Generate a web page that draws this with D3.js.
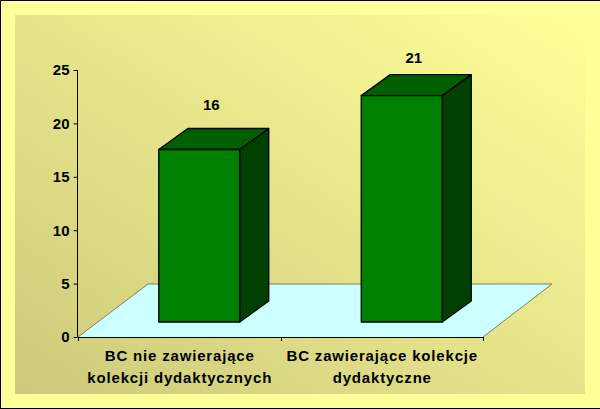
<!DOCTYPE html>
<html><head><meta charset="utf-8">
<script src="https://cdn.jsdelivr.net/npm/d3@7"></script>
<style>
html,body{margin:0;padding:0;background:#FFFF99}
svg{display:block}
text{font-family:"Liberation Sans",Arial,sans-serif;font-weight:bold;font-size:15px;fill:#000}
</style></head><body>
<svg id="c" width="600" height="409"></svg>
<script>
const categories=[["BC nie zawierające","kolekcji dydaktycznych"],["BC zawierające kolekcje","dydaktyczne"]];
const values=[16,21];
const valueTicks=[0,5,10,15,20,25];

const svg=d3.select("#c");
const defs=svg.append("defs");
const g=defs.append("linearGradient").attr("id","bg").attr("gradientUnits","userSpaceOnUse")
  .attr("x1",128).attr("y1",463).attr("x2",472).attr("y2",-59);
g.append("stop").attr("offset",0).attr("stop-color","#CDCA7C");
g.append("stop").attr("offset",1).attr("stop-color","#FFFF99");

svg.append("rect").attr("x",0).attr("y",0).attr("width",600).attr("height",409).attr("fill","#FFFF99");
svg.append("rect").attr("x",15).attr("y",15).attr("width",570).attr("height",379).attr("fill","url(#bg)");
const frame=d3.path();
frame.moveTo(.5,409);frame.lineTo(.5,.5);frame.lineTo(600,.5);
frame.moveTo(0,408.5);frame.lineTo(600,408.5);
svg.append("path").attr("d",frame.toString()).attr("fill","none").attr("stroke","#000");

// axes and projection
const y=d3.scaleLinear().domain([0,25]).range([337,70]);
const x=d3.scaleLinear().domain([0,1]).range([78,483]);
const floorDepth={dx:70,dy:-53};
const barDepth={dx:29,dy:-21};
const band=d3.scaleBand().domain(d3.range(values.length)).range([98,503]).paddingInner(.6).paddingOuter(.3);
const barY=d3.scaleLinear().domain([0,25]).range([322,52.5]);
const labelY=d3.scaleLinear().domain([0,25]).range([260.4,25.4]);

// floor
const floor=d3.path();
floor.moveTo(x(0),y(0));floor.lineTo(x(0)+floorDepth.dx,y(0)+floorDepth.dy);
floor.lineTo(x(1)+floorDepth.dx-1,y(0)+floorDepth.dy);floor.lineTo(x(1),y(0));floor.closePath();
svg.append("path").attr("d",floor.toString()).attr("fill","#CCFFFF");
const edge=d3.path();
edge.moveTo(x(0),y(0));edge.lineTo(x(0)+floorDepth.dx,y(0)+floorDepth.dy);
edge.lineTo(x(1)+floorDepth.dx-1,y(0)+floorDepth.dy);edge.lineTo(x(1),y(0));
svg.append("path").attr("d",edge.toString()).attr("fill","none").attr("stroke","#7F7F60").attr("stroke-width",1);

// bars
const bars=svg.selectAll("g.bar").data(values).join("g").attr("class","bar");
const st=s=>s.attr("stroke","#000").attr("stroke-width",1.3).attr("stroke-linejoin","round");
bars.append("path").attr("fill","#004000").call(st).attr("d",(d,i)=>{
  const l=band(i)+band.bandwidth(),t=barY(d),b=barY(0);
  return `M${l},${t}L${l+barDepth.dx},${t+barDepth.dy}L${l+barDepth.dx},${b+barDepth.dy}L${l},${b}Z`;});
bars.append("path").attr("fill","#006000").call(st).attr("d",(d,i)=>{
  const l=band(i),w=band.bandwidth(),t=barY(d);
  return `M${l},${t}L${l+barDepth.dx},${t+barDepth.dy}L${l+w+barDepth.dx},${t+barDepth.dy}L${l+w},${t}Z`;});
bars.append("rect").attr("fill","#008000").call(st)
  .attr("x",(d,i)=>band(i)).attr("y",d=>barY(d)).attr("width",band.bandwidth()).attr("height",d=>barY(0)-barY(d));
bars.append("text").attr("text-anchor","middle")
  .attr("x",(d,i)=>band(i)+band.bandwidth()/2+12).attr("y",d=>labelY(d)).text(d=>d);

// y axis
const ya=svg.append("g").attr("transform","translate(77.5,0)")
  .call(d3.axisLeft(y).tickValues(valueTicks).tickSize(4).tickPadding(4));
ya.select(".domain").attr("stroke","#000").attr("d","M0,70V337");
ya.selectAll("line").attr("stroke","#000");
ya.selectAll("text").style("font-family",'"Liberation Sans",Arial,sans-serif').style("font-size","15px").style("font-weight","bold");

// x axis
const xl=svg.append("g");
xl.append("line").attr("x1",x(0)).attr("x2",x(1)).attr("y1",337.5).attr("y2",337.5).attr("stroke","#000");
xl.selectAll("line.t").data([0,.5,1]).join("line").attr("class","t")
  .attr("x1",d=>Math.round(x(d))+.5).attr("x2",d=>Math.round(x(d))+.5).attr("y1",337).attr("y2",341).attr("stroke","#000");
categories.forEach((lines,i)=>{
  lines.forEach((s,j)=>{
    xl.append("text").attr("text-anchor","middle").attr("letter-spacing","0.82px")
      .attr("x",x((i+.5)/2)+.5).attr("y",361+j*22).text(s);
  });
});
</script></body></html>
